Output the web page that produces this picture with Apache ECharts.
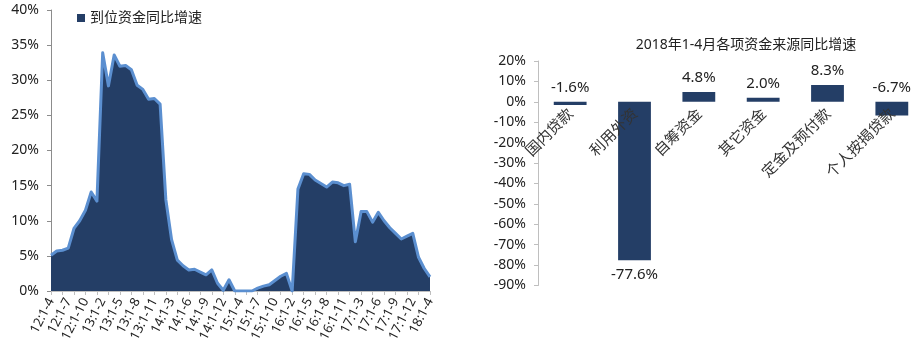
<!DOCTYPE html>
<html>
<head>
<meta charset="utf-8">
<script src="https://cdn.jsdelivr.net/npm/echarts@6/dist/echarts.min.js"></script>
<style>
  html, body { margin: 0; padding: 0; background: #fff; }
  #chart { width: 913px; height: 353px; }
</style>
</head>
<body>
<div id="chart"></div>
<script>
// 左图：到位资金同比增速（累计，%）
const months = [
  "12:1-4", "12:1-5", "12:1-6", "12:1-7", "12:1-8", "12:1-9", "12:1-10", "12:1-11", "12:1-12",
  "13:1-2", "13:1-3", "13:1-4", "13:1-5", "13:1-6", "13:1-7", "13:1-8", "13:1-9", "13:1-10", "13:1-11", "13:1-12",
  "14:1-2", "14:1-3", "14:1-4", "14:1-5", "14:1-6", "14:1-7", "14:1-8", "14:1-9", "14:1-10", "14:1-11", "14:1-12",
  "15:1-2", "15:1-3", "15:1-4", "15:1-5", "15:1-6", "15:1-7", "15:1-8", "15:1-9", "15:1-10", "15:1-11", "15:1-12",
  "16:1-2", "16:1-3", "16:1-4", "16:1-5", "16:1-6", "16:1-7", "16:1-8", "16:1-9", "16:1-10", "16:1-11", "16:1-12",
  "17:1-2", "17:1-3", "17:1-4", "17:1-5", "17:1-6", "17:1-7", "17:1-8", "17:1-9", "17:1-10", "17:1-11", "17:1-12",
  "18:1-2", "18:1-3", "18:1-4"
];
const fundsGrowth = [
  5.1, 5.7, 5.8, 6.1, 8.9, 10.0, 11.5, 14.1, 12.8,
  33.9, 29.2, 33.6, 32.0, 32.1, 31.5, 29.3, 28.7, 27.3, 27.4, 26.6,
  13.0, 7.3, 4.4, 3.6, 3.0, 3.1, 2.7, 2.3, 3.0, 1.1, 0.1,
  1.6, 0, 0, 0, 0, 0.4, 0.7, 0.9, 1.5, 2.1, 2.5,
  0, 14.5, 16.7, 16.6, 15.8, 15.3, 14.8, 15.5, 15.4, 15.0, 15.2,
  7.0, 11.3, 11.3, 9.8, 11.2, 10.0, 9.0, 8.2, 7.4, 7.8, 8.2,
  4.8, 3.2, 2.0
];

// 右图：2018年1-4月各项资金来源同比增速
const sources = ["国内贷款", "利用外资", "自筹资金", "其它资金", "定金及预付款", "个人按揭贷款"];
const sourceGrowth = [-1.6, -77.6, 4.8, 2.0, 8.3, -6.7];

const navy = "#243e66";
const textColor = "#222";
const fontSans = "'Noto Sans', 'Noto Sans CJK SC', sans-serif";

const chart = echarts.init(document.getElementById("chart"));

const option = {
  animation: false,
  textStyle: { fontFamily: fontSans, color: textColor },
  title: {
    text: "2018年1-4月各项资金来源同比增速",
    left: 741,
    top: 33,
    textAlign: "center",
    textStyle: { fontSize: 14, fontWeight: "normal", color: textColor, fontFamily: fontSans }
  },
  legend: {
    left: 72,
    top: 6,
    itemWidth: 8,
    itemHeight: 8,
    itemGap: 4,
    textStyle: { fontSize: 14, color: textColor },
    data: [{ name: "到位资金同比增速", icon: "rect", itemStyle: { color: navy } }]
  },
  grid: [
    { left: 51, top: 10, width: 379, height: 281, outerBoundsMode: "none" },
    { left: 538, top: 61, width: 386, height: 224.5, outerBoundsMode: "none" }
  ],
  xAxis: [
    {
      type: "category",
      gridIndex: 0,
      data: months,
      boundaryGap: false,
      axisLine: { lineStyle: { color: "#bfbfbf" } },
      axisTick: { interval: 1, length: 4, lineStyle: { color: "#bfbfbf" } },
      axisLabel: { interval: 2, rotate: 63, fontSize: 13, margin: 8, color: textColor }
    },
    {
      type: "category",
      gridIndex: 1,
      data: sources,
      position: "bottom",
      offset: -184, // 类目标签贴着 0% 线
      z: 10,
      axisLine: { show: false, onZero: false },
      axisTick: { show: false },
      axisLabel: {
        interval: 0,
        rotate: 45,
        fontSize: 15,
        margin: 9,
        color: "#333",
        fontFamily: "'Noto Sans CJK SC', sans-serif"
      }
    }
  ],
  yAxis: [
    {
      type: "value",
      gridIndex: 0,
      min: 0,
      max: 40,
      interval: 5,
      axisLine: { show: true, lineStyle: { color: "#8c8c8c" } },
      axisTick: { show: true, length: 4, lineStyle: { color: "#8c8c8c" } },
      splitLine: { show: false },
      axisLabel: { fontSize: 14, margin: 12, color: textColor, formatter: "{value}%" }
    },
    {
      type: "value",
      gridIndex: 1,
      min: -90,
      max: 20,
      interval: 10,
      axisLine: { show: true, lineStyle: { color: "#bfbfbf" } },
      axisTick: { show: true, length: 4, lineStyle: { color: "#bfbfbf" } },
      splitLine: { show: false },
      axisLabel: { fontSize: 14, margin: 12, color: textColor, formatter: "{value}%" }
    }
  ],
  series: [
    {
      name: "到位资金同比增速",
      type: "line",
      xAxisIndex: 0,
      yAxisIndex: 0,
      data: fundsGrowth,
      symbol: "none",
      itemStyle: { color: navy },
      lineStyle: { color: "#5b8fd0", width: 3, join: "round" },
      areaStyle: { color: navy, opacity: 1 },
      z: 3
    },
    {
      name: "资金来源",
      type: "bar",
      xAxisIndex: 1,
      yAxisIndex: 1,
      barWidth: "51%",
      itemStyle: { color: navy },
      label: {
        show: true,
        fontSize: 15,
        color: textColor,
        distance: 7,
        formatter: p => p.value.toFixed(1) + "%"
      },
      data: sourceGrowth.map(v => ({
        value: v,
        label: { position: v < -20 ? "bottom" : "top" }
      }))
    }
  ]
};

chart.setOption(option);
</script>
</body>
</html>
